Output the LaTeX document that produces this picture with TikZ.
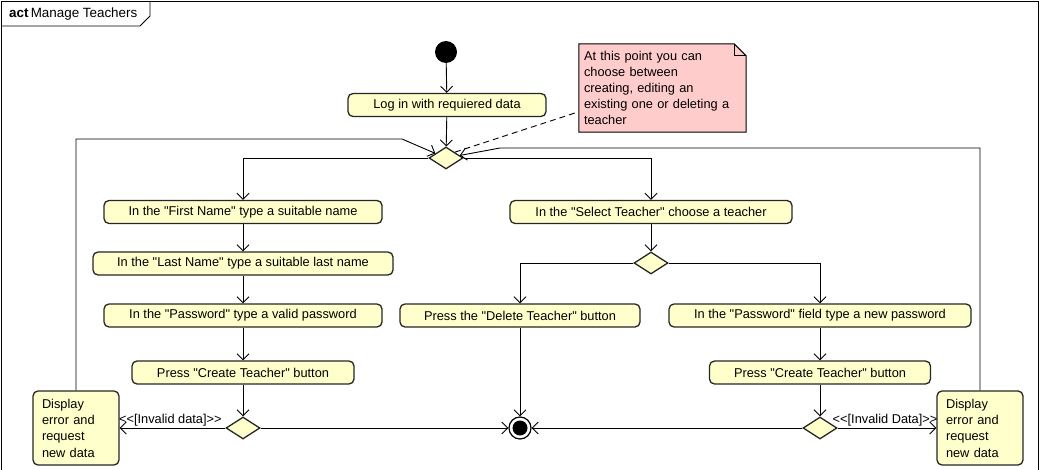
\documentclass[tikz,border=0pt]{standalone}
\usepackage{fontspec}
\setmainfont{Liberation Sans}[Ligatures=TeXOff]
\usepackage{tikz}
\usetikzlibrary{arrows.meta, positioning, shapes.geometric, backgrounds}
\definecolor{actfill}{HTML}{FFFFCC}
\definecolor{notefill}{HTML}{FFCCCC}
\tikzset{>={Straight Barb[length=6pt,width=12pt]},
font=\fontsize{12.8}{15}\selectfont,
action/.style={draw=black!85, line width=1.3pt, fill=actfill, rounded corners=5pt,
  minimum height=23pt, inner sep=0pt},
decision/.style={diamond, draw=black!85, line width=1.3pt, fill=actfill,
  minimum width=34pt, minimum height=22pt, inner sep=0pt},
errorbox/.style={action, minimum width=86pt, minimum height=74pt, text width=68pt,
  align=left, font=\fontsize{12.8}{16.3}\selectfont},
flow/.style={->, line width=0.9pt},
guard/.style={above, inner sep=1pt, pos=0.52}
}
\begin{document}
\begin{tikzpicture}[x=1pt,y=-1pt]
\useasboundingbox (0,0) rectangle (1041,470);
\begin{scope}
\clip (0,0) rectangle (1041,470);
\draw[line width=0.9pt] (1,1) rectangle (1038,480);
\end{scope}
% frame tab
\draw[line width=0.9pt] (1,26) -- (140,26) -- (150,16) -- (150,1);
\node[anchor=west, inner sep=0pt, font=\fontsize{13.4}{15}\selectfont] (title) at (9,14) {\textbf{act}\,Manage Teachers};

% start and login
\node[circle, fill=black, minimum size=22pt, inner sep=0pt] (start) at (446,52) {};
\node[action, minimum width=198pt] (login) at (447,105) {Log in with requiered data};
\node[decision] (mdec) at (446,158) {};

% note
\node[minimum width=167pt, minimum height=88pt, text width=157pt, align=left,
  inner sep=0pt, font=\fontsize{12.8}{16}\selectfont] (note) at (662.5,88)
  {At this point you can\\choose between\\creating, editing an\\existing one or deleting a\\teacher};
\begin{scope}[on background layer]
\draw[line width=1pt, fill=notefill] (note.north west) -- ([xshift=-12pt]note.north east)
  -- ([yshift=-12pt]note.north east) -- (note.south east) -- (note.south west) -- cycle;
\end{scope}
\draw[line width=1pt] ([xshift=-12pt]note.north east) |- ([yshift=-12pt]note.north east);

% create branch
\node[action, minimum width=278pt] (first) at (243,212) {In the "First Name" type a suitable name};
\node[action, minimum width=300pt] (last) at (243,263.5) {In the "Last Name" type a suitable last name};
\node[action, minimum width=278pt] (pass) at (243,315.5) {In the "Password" type a valid password};
\node[action, minimum width=222pt] (create) at (243,372.5) {Press "Create Teacher" button};
\node[decision] (ldec) at (243,428) {};
\node[errorbox] (ldisp) at (76,428) {Display\\error and\\request\\new data};

% edit / delete branch
\node[action, minimum width=282pt] (select) at (651,212) {In the "Select Teacher" choose a teacher};
\node[decision] (sdec) at (651,263) {};
\node[action, minimum width=240pt] (del) at (520,315.5) {Press the "Delete Teacher" button};
\node[action, minimum width=302pt] (pwd) at (820,315.5) {In the "Password" field type a new password};
\node[action, minimum width=221pt] (rcreate) at (820,372.5) {Press "Create Teacher" button};
\node[decision] (rdec) at (820,428) {};
\node[errorbox] (rdisp) at (980,428) {Display\\error and\\request\\new data};

% final node
\node[circle, draw=black, line width=1.2pt, fill=white, minimum size=22pt, inner sep=0pt] (end) at (520,428) {};
\fill (end.center) circle (7.5pt);

\coordinate (lback) at (402,139);
\coordinate (rback) at (500,148);
\coordinate (notetip) at (578,112);

\draw[flow] (start) -- (login);
\draw[flow] (login) -- (mdec);
\draw[dash pattern=on 6pt off 4pt, line width=0.9pt] (mdec.north east) -- (notetip);
\draw[flow] (mdec.west) -| (first.north);
\draw[flow] (mdec.east) -| (select.north);
\draw[flow] (first) -- (last);
\draw[flow] (last) -- (pass);
\draw[flow] (pass) -- (create);
\draw[flow] (create) -- (ldec);
\draw[flow] (ldec) -- node[guard]{<<[Invalid data]>>} (ldisp);
\draw[flow] (ldec) -- (end);
\draw[flow] (ldisp.north) |- (lback) -- (mdec);
\draw[flow] (select) -- (sdec);
\draw[flow] (sdec.west) -| (del.north);
\draw[flow] (sdec.east) -| (pwd.north);
\draw[flow] (del) -- (end);
\draw[flow] (pwd) -- (rcreate);
\draw[flow] (rcreate) -- (rdec);
\draw[flow] (rdec) -- node[guard, pos=0.48]{<<[Invalid Data]>>} (rdisp);
\draw[flow] (rdec) -- (end);
\draw[flow] (rdisp.north) |- (rback) -- (mdec);
\end{tikzpicture}
\end{document}
